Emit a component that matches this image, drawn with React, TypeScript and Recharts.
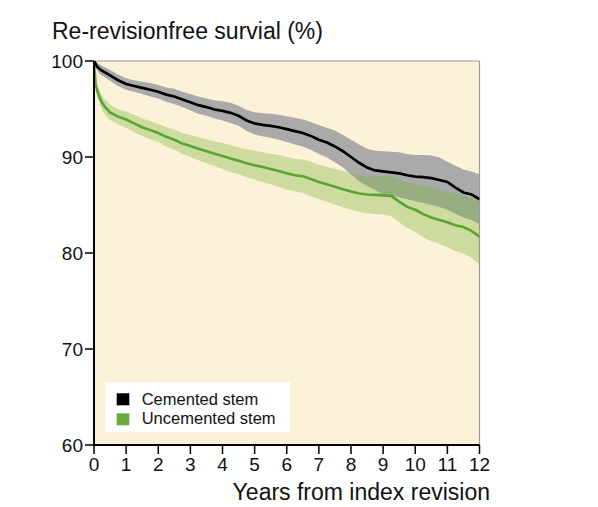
import React from "react";
import {
  ComposedChart,
  Area,
  Line,
  XAxis,
  YAxis,
  CartesianGrid,
  ReferenceLine,
} from "recharts";

// Years from index revision
const years = [
  0, 0.05, 0.1, 0.2, 0.3, 0.4, 0.5, 0.75, 1, 1.25, 1.5, 1.75, 2, 2.25, 2.5, 2.75, 3,
  3.25, 3.5, 3.75, 4, 4.25, 4.5, 4.75, 5, 5.25, 5.5, 5.75, 6, 6.25, 6.5, 6.75, 7,
  7.25, 7.5, 7.75, 8, 8.25, 8.5, 8.75, 9, 9.25, 9.5, 9.75, 10, 10.25, 10.5, 10.75,
  11, 11.25, 11.5, 11.75, 12,
];

// Cemented stem survival (%) and 95% CI
const cemented = [
  100, 99.7, 99.4, 99.1, 98.9, 98.7, 98.5, 98.0, 97.6, 97.4, 97.2, 97.0, 96.8, 96.5,
  96.3, 96.0, 95.7, 95.4, 95.2, 94.95, 94.8, 94.6, 94.3, 93.8, 93.5, 93.35, 93.25,
  93.1, 92.9, 92.7, 92.5, 92.2, 91.8, 91.5, 91.1, 90.6, 90.0, 89.4, 88.9, 88.6, 88.5,
  88.4, 88.3, 88.1, 87.95, 87.9, 87.8, 87.6, 87.4, 86.8, 86.3, 86.1, 85.6,
];
const cementedLow = [
  100, 99.4, 99.0, 98.6, 98.4, 98.15, 97.95, 97.4, 97.0, 96.8, 96.55, 96.3, 96.1,
  95.75, 95.5, 95.2, 94.85, 94.5, 94.3, 94.0, 93.8, 93.55, 93.25, 92.7, 92.35, 92.15,
  92.0, 91.8, 91.55, 91.3, 91.1, 90.75, 90.3, 89.95, 89.45, 88.9, 88.2, 87.5, 86.95,
  86.55, 86.1, 86.0, 85.8, 85.6, 85.4, 85.2, 85.0, 84.8, 84.5, 84.1, 83.7, 83.4, 83.0,
];
const cementedHigh = [
  100, 100, 99.8, 99.6, 99.4, 99.25, 99.05, 98.6, 98.2, 98.0, 97.85, 97.7, 97.5,
  97.25, 97.1, 96.8, 96.55, 96.3, 96.1, 95.9, 95.8, 95.65, 95.35, 94.9, 94.65, 94.55,
  94.5, 94.4, 94.25, 94.1, 93.9, 93.65, 93.3, 93.05, 92.75, 92.3, 91.8, 91.3, 90.85,
  90.65, 90.6, 90.55, 90.5, 90.3, 90.2, 90.2, 90.15, 89.95, 89.5, 89.1, 88.7, 88.5,
  88.2,
];

// Uncemented stem survival (%) and 95% CI
const uncemented = [
  100, 97.6, 96.9, 96.0, 95.4, 95.0, 94.65, 94.2, 93.9, 93.5, 93.1, 92.8, 92.5, 92.1,
  91.8, 91.4, 91.15, 90.85, 90.6, 90.35, 90.1, 89.85, 89.6, 89.35, 89.15, 88.95,
  88.75, 88.55, 88.3, 88.1, 88.0, 87.7, 87.4, 87.15, 86.9, 86.65, 86.4, 86.2, 86.1,
  86.05, 86.0, 85.95, 85.35, 84.8, 84.5, 84.05, 83.7, 83.45, 83.2, 82.9, 82.7, 82.3,
  81.7,
];
const uncementedLow = [
  100, 97.1, 96.3, 95.3, 94.65, 94.2, 93.85, 93.4, 93.05, 92.6, 92.2, 91.85, 91.55,
  91.1, 90.75, 90.3, 90.0, 89.65, 89.35, 89.05, 88.75, 88.45, 88.2, 87.9, 87.65,
  87.4, 87.15, 86.9, 86.6, 86.4, 86.25, 85.9, 85.6, 85.35, 85.05, 84.75, 84.5, 84.3,
  84.15, 84.05, 84.0, 83.85, 83.2, 82.6, 82.2, 81.65, 81.25, 80.95, 80.6, 80.2, 79.95,
  79.5, 78.8,
];
const uncementedHigh = [
  100, 98.1, 97.5, 96.7, 96.15, 95.8, 95.45, 95.0, 94.75, 94.4, 94.0, 93.75, 93.45,
  93.1, 92.85, 92.5, 92.3, 92.05, 91.85, 91.65, 91.45, 91.25, 91.0, 90.8, 90.65, 90.5,
  90.35, 90.2, 90.0, 89.8, 89.75, 89.5, 89.2, 88.95, 88.75, 88.55, 88.3, 88.1, 88.05,
  88.0, 88.0, 88.0, 87.7, 87.4, 87.2, 87.0, 86.8, 86.6, 86.4, 86.2, 86.0, 85.7, 85.4,
];

const xTicks = [0, 1, 2, 3, 4, 5, 6, 7, 8, 9, 10, 11, 12];
const yTicks = [60, 70, 80, 90, 100];

const seriesNames = ["Cemented stem", "Uncemented stem"];
const titleText = "Re-revisionfree survial (%)";
const xLabelText = "Years from index revision";

const data = years.map((t, i) => ({
  t,
  cem: cemented[i],
  cemBand: [cementedLow[i], cementedHigh[i]],
  unc: uncemented[i],
  uncBand: [uncementedLow[i], uncementedHigh[i]],
}));

const FONT = "'Liberation Sans', Arial, Helvetica, sans-serif";
const W = 590;
const H = 499;

export default function App() {
  return (
    <div style={{ position: "relative", width: W, height: H, fontFamily: FONT }}>
      <ComposedChart
        width={W}
        height={H}
        data={data}
        margin={{ top: 53, right: 118.5, left: 0, bottom: 32 }}
      >
        <CartesianGrid
          fill="#fdf1d7"
          fillOpacity={1}
          stroke="none"
          horizontal={false}
          vertical={false}
        />
        <XAxis
          dataKey="t"
          type="number"
          domain={[0, 12]}
          ticks={xTicks}
          interval={0}
          height={30}
          tickSize={9}
          tickMargin={4}
          axisLine={{ stroke: "#000", strokeWidth: 2 }}
          tickLine={{ stroke: "#000", strokeWidth: 1.5 }}
          tick={{ fill: "#111", fontSize: 19, fontFamily: FONT }}
          allowDataOverflow
        />
        <YAxis
          type="number"
          domain={[60, 100]}
          ticks={yTicks}
          interval={0}
          width={86}
          tickSize={9}
          tickMargin={2}
          axisLine={{ stroke: "#000", strokeWidth: 2 }}
          tickLine={{ stroke: "#000", strokeWidth: 1.5 }}
          tick={{ fill: "#111", fontSize: 19, fontFamily: FONT }}
          allowDataOverflow
        />
        <ReferenceLine y={100} stroke="#9a9a9a" strokeWidth={1.2} />
        <ReferenceLine x={12} stroke="#9a9a9a" strokeWidth={1.2} />
        <Area
          dataKey="cemBand"
          type="linear"
          stroke="none"
          fill="#aaaaaa"
          fillOpacity={1}
          isAnimationActive={false}
          activeDot={false}
        />
        <Area
          dataKey="uncBand"
          type="linear"
          stroke="none"
          fill="#78b43c"
          fillOpacity={0.36}
          isAnimationActive={false}
          activeDot={false}
        />
        <Line
          dataKey="unc"
          type="linear"
          stroke="#58a52f"
          strokeWidth={2.6}
          dot={false}
          activeDot={false}
          isAnimationActive={false}
        />
        <Line
          dataKey="cem"
          type="linear"
          stroke="#000"
          strokeWidth={2.7}
          dot={false}
          activeDot={false}
          isAnimationActive={false}
        />
      </ComposedChart>
      <svg
        width={W}
        height={H}
        style={{ position: "absolute", left: 0, top: 0, pointerEvents: "none" }}
      >
        <text x={44} y={30.5} fontSize={23} fill="#111" fontFamily={FONT}>
          {titleText}
        </text>
        <text x={482} y={491.5} fontSize={23} fill="#111" textAnchor="end" fontFamily={FONT}>
          {xLabelText}
        </text>
        <rect x={97} y={374} width={185} height={50} fill="#ffffff" />
        <rect x={108.7} y={385.3} width={12.6} height={12} fill="#000" />
        <text x={133.7} y={396.5} fontSize={16.5} fill="#111" fontFamily={FONT}>
          {seriesNames[0]}
        </text>
        <rect x={108.7} y={405.3} width={12.6} height={12} fill="#6aab40" />
        <text x={133.7} y={416} fontSize={16.5} fill="#111" fontFamily={FONT}>
          {seriesNames[1]}
        </text>
      </svg>
    </div>
  );
}
